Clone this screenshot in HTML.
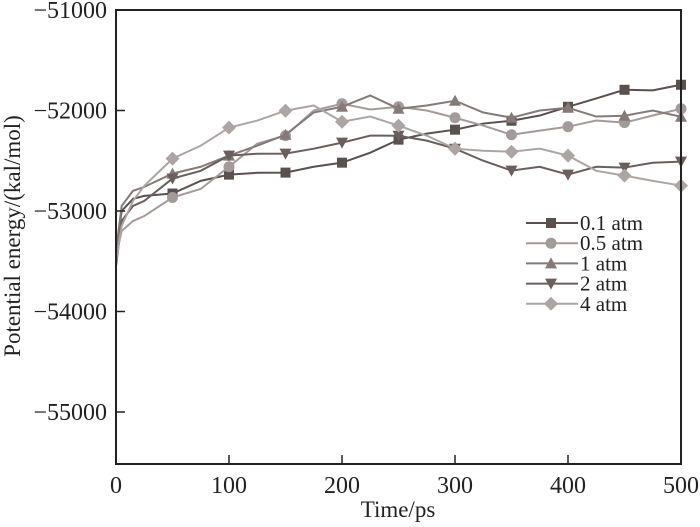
<!DOCTYPE html>
<html><head><meta charset="utf-8"><style>
body{margin:0;background:#fff}
svg{display:block}
text{font-family:"Liberation Serif",serif;fill:#222}
</style></head><body>
<svg id="chart" width="700" height="527" viewBox="0 0 700 527" xmlns="http://www.w3.org/2000/svg"></svg>
<script>
const times = [0,5,15,25,50,75,100,125,150,175,200,225,250,275,300,325,350,375,400,425,450,475,500];
const seriesNames = ["0.1 atm","0.5 atm","1 atm","2 atm","4 atm"];
const s01 = [-53400,-53000,-52880,-52850,-52826,-52700,-52638,-52620,-52618,-52560,-52519,-52420,-52290,-52230,-52191,-52130,-52102,-52050,-51963,-51880,-51794,-51800,-51744];
const s05 = [-53450,-53200,-53100,-53050,-52866,-52780,-52560,-52330,-52250,-52000,-51933,-51990,-51963,-52000,-52072,-52150,-52241,-52200,-52161,-52100,-52121,-52050,-51983];
const s1 = [-53400,-52950,-52800,-52760,-52628,-52560,-52449,-52350,-52241,-52020,-51963,-51850,-51983,-51950,-51903,-52020,-52072,-52000,-51973,-52060,-52052,-52000,-52062];
const s2 = [-53550,-53100,-52950,-52900,-52677,-52600,-52449,-52430,-52429,-52380,-52320,-52250,-52251,-52300,-52380,-52500,-52598,-52560,-52638,-52560,-52568,-52520,-52509];
const s4 = [-53500,-53150,-52900,-52750,-52479,-52350,-52171,-52100,-52002,-51950,-52112,-52060,-52151,-52250,-52380,-52400,-52410,-52380,-52449,-52600,-52648,-52700,-52747];
const xTicks = [0,100,200,300,400,500];
const yTicks = [-51000,-52000,-53000,-54000,-55000];
const allSeries = [s01,s05,s1,s2,s4];
const colors = ["#5a504e","#a39b99","#857a78","#6b5f5d","#aca5a3"];
const markers = ["square","circle","up","down","diamond"];
const X0=116,X1=681,Y0=10,Y1=464;
const x = t => X0 + (t-0)/(500-0)*(X1-X0);
const y = v => Y0 + (-51000 - v)/1000*100.5;
const NS="http://www.w3.org/2000/svg";
const svg=document.getElementById('chart');
function mk(tag,attrs,parent){const e=document.createElementNS(NS,tag);for(const k in attrs)e.setAttribute(k,attrs[k]);(parent||svg).appendChild(e);return e;}
function marker(type,cx,cy,col,parent){
  let e;
  if(type==="square") e=mk('rect',{x:cx-5,y:cy-5,width:10,height:10,fill:col},parent);
  else if(type==="circle") e=mk('circle',{cx:cx,cy:cy,r:5.5,fill:col},parent);
  else if(type==="up") e=mk('polygon',{points:`${cx},${cy-6} ${cx+6},${cy+5} ${cx-6},${cy+5}`,fill:col},parent);
  else if(type==="down") e=mk('polygon',{points:`${cx},${cy+6} ${cx+6},${cy-5} ${cx-6},${cy-5}`,fill:col},parent);
  else e=mk('polygon',{points:`${cx},${cy-7} ${cx+7},${cy} ${cx},${cy+7} ${cx-7},${cy}`,fill:col},parent);
  return e;
}
allSeries.forEach((s,i)=>{
  const g=mk('g',{});
  
  
  const p=mk('polyline',{points:s.map((v,j)=>x(times[j])+','+y(v)).join(' '),fill:'none',stroke:colors[i],'stroke-width':2},g);
  
  
  s.forEach((v,j)=>{ if(times[j]>0 && times[j]%50===0){
    const m=marker(markers[i],x(times[j]),y(v),colors[i],g);
    
    
  }});
});
const fr=mk('rect',{x:X0,y:Y0,width:X1-X0,height:Y1-Y0,fill:'none',stroke:'#222','stroke-width':2});


xTicks.forEach(t=>{
  const l=mk('line',{x1:x(t),x2:x(t),y1:Y1,y2:Y1-9,stroke:'#222','stroke-width':1.5});
  
  
  const tx=mk('text',{x:x(t),y:493,'text-anchor':'middle','font-size':24});
  tx.textContent=t;
  
  
});
yTicks.forEach(v=>{
  const l=mk('line',{x1:X0,x2:X0+9,y1:y(v),y2:y(v),stroke:'#222','stroke-width':1.5});
  
  
  const tx=mk('text',{x:107,y:y(v)+8,'text-anchor':'end','font-size':24});
  tx.textContent='\u2212'+String(-v);
  
  
});
const xt=mk('text',{x:398,y:517,'text-anchor':'middle','font-size':23});
xt.textContent='Time/ps';


const yt=mk('text',{x:0,y:0,'text-anchor':'middle','font-size':23,transform:'translate(20,236) rotate(-90)'});
yt.textContent='Potential energy/(kal/mol)';


const lg=mk('g',{});


seriesNames.forEach((n,i)=>{
  const yy=223+i*20.2;
  const e=mk('g',{},lg);
  
  
  mk('line',{x1:526,x2:578,y1:yy,y2:yy,stroke:colors[i],'stroke-width':2},e);
  marker(markers[i],551,yy,colors[i],e);
  const t=mk('text',{x:580,y:yy+7,'font-size':21},e);
  t.textContent=n;
});
</script>
</body></html>
